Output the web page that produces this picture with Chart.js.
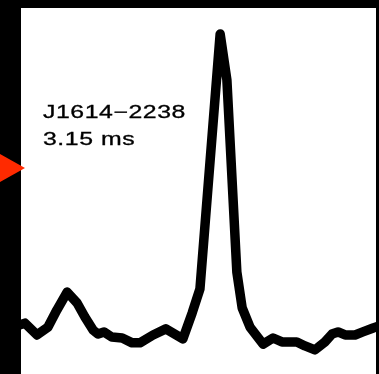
<!DOCTYPE html>
<html>
<head>
<meta charset="utf-8">
<script src="https://cdn.jsdelivr.net/npm/chart.js@4/dist/chart.umd.min.js"></script>
<style>
  html, body { margin: 0; padding: 0; background: #000; }
  #wrap { position: relative; width: 379px; height: 374px; overflow: hidden; background: #000; }
  #c { position: absolute; left: 0; top: 0; }
  .lbl { position: absolute; left: 43px; font-family: "Liberation Sans", Arial, sans-serif; font-size: 18px; line-height: 18px; letter-spacing: 0.4px; color: #000; -webkit-text-stroke: 0.3px #000; white-space: nowrap; transform: scaleX(1.38); transform-origin: left top; }
</style>
</head>
<body>
<div id="wrap">
  <canvas id="c" width="379" height="374"></canvas>
  <div class="lbl" id="name" style="top:103px"></div>
  <div class="lbl" id="period" style="top:130px"></div>
</div>
<script>
// Pulse phase (fraction of the window) and normalised intensity
const phase = [-0.020, 0.011, 0.045, 0.076, 0.101, 0.130, 0.158, 0.180, 0.203, 0.217,
               0.234, 0.256, 0.285, 0.313, 0.335, 0.372, 0.408, 0.456, 0.482, 0.504,
               0.561, 0.580, 0.608, 0.623, 0.645, 0.682, 0.710, 0.735, 0.777, 0.800,
               0.828, 0.856, 0.876, 0.893, 0.913, 0.941, 0.963, 0.992, 1.025];
const intensity = [0.036, 0.049, 0.010, 0.036, 0.092, 0.151, 0.115, 0.069, 0.026, 0.013,
                   0.020, 0.003, 0.000, -0.016, -0.016, 0.010, 0.030, -0.003, 0.082, 0.161,
                   1.000, 0.849, 0.217, 0.099, 0.036, -0.020, 0.000, -0.013, -0.013, -0.026,
                   -0.039, -0.013, 0.013, 0.020, 0.010, 0.010, 0.020, 0.033, 0.046];
const pulsarName = "J1614\u22122238";
const pulsarPeriod = "3.15 ms";

document.getElementById('name').textContent = pulsarName;
document.getElementById('period').textContent = pulsarPeriod;

const points = phase.map((p, i) => ({ x: p, y: intensity[i] }));

const panelPlugin = {
  id: 'panel',
  beforeDraw(chart) {
    const { ctx, chartArea: a, width, height } = chart;
    ctx.save();
    ctx.fillStyle = '#000';
    ctx.fillRect(0, 0, width, height);
    ctx.fillStyle = '#fff';
    ctx.fillRect(a.left, a.top, a.right - a.left, a.bottom - a.top);
    ctx.restore();
  },
  afterDraw(chart) {
    const { ctx, chartArea: a } = chart;
    ctx.save();
    ctx.fillStyle = '#ff2a00';
    ctx.beginPath();
    ctx.moveTo(0, 154);
    ctx.lineTo(a.left + 4, 168);
    ctx.lineTo(0, 182);
    ctx.closePath();
    ctx.fill();
    ctx.restore();
  }
};

new Chart(document.getElementById('c'), {
  type: 'line',
  data: {
    datasets: [{
      data: points,
      borderColor: '#000',
      borderWidth: 9.5,
      borderJoinStyle: 'round',
      borderCapStyle: 'round',
      pointRadius: 0,
      tension: 0,
      fill: false,
      clip: 0
    }]
  },
  options: {
    responsive: false,
    animation: false,
    devicePixelRatio: 1,
    layout: { padding: { left: 21, top: 8, right: 3, bottom: 0 } },
    plugins: { legend: { display: false }, tooltip: { enabled: false } },
    scales: {
      x: { type: 'linear', min: 0, max: 1, display: false },
      y: { type: 'linear', min: -0.1184, max: 1.0855, display: false }
    }
  },
  plugins: [panelPlugin]
});
</script>
</body>
</html>
